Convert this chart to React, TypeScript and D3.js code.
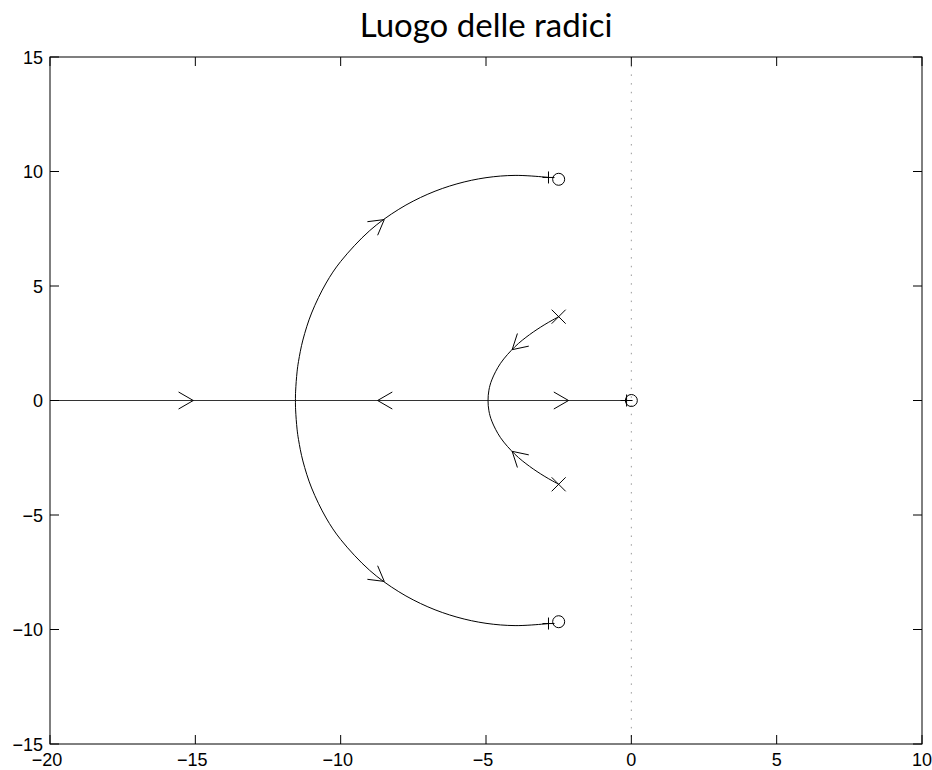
import React from "react";
import * as d3 from "d3";

// Root locus branches, in the complex plane [Re, Im]
const bigArcUpper: [number, number][] = [
  [-11.556, 0], [-11.55, 0.41], [-11.5, 1.25], [-11.45, 1.71], [-11.3, 2.64],
  [-11.0, 3.82], [-10.5, 5.13], [-10.0, 6.07], [-9.0, 7.42], [-8.0, 8.35],
  [-7.0, 9.01], [-6.0, 9.46], [-5.0, 9.73], [-4.0, 9.83], [-3.0, 9.76],
  [-2.85, 9.74],
];
const bigArcLower: [number, number][] = [
  [-11.556, 0], [-11.55, -0.41], [-11.5, -1.25], [-11.45, -1.71], [-11.3, -2.64],
  [-11.0, -3.82], [-10.5, -5.13], [-10.0, -6.07], [-9.0, -7.42], [-8.0, -8.35],
  [-7.0, -9.01], [-6.0, -9.46], [-5.0, -9.73], [-4.0, -9.83], [-3.0, -9.76],
  [-2.85, -9.74],
];
const smallArcUpper: [number, number][] = [
  [-4.93, 0], [-4.9, 0.45], [-4.8, 0.9], [-4.5, 1.625], [-4.0, 2.354],
  [-3.5, 2.877], [-3.0, 3.3], [-2.7, 3.52], [-2.5, 3.66],
];
const smallArcLower: [number, number][] = [
  [-4.93, 0], [-4.9, -0.45], [-4.8, -0.9], [-4.5, -1.625], [-4.0, -2.354],
  [-3.5, -2.877], [-3.0, -3.3], [-2.7, -3.52], [-2.5, -3.66],
];
const realAxisBranches: [number, number][][] = [
  [[-20, 0], [-11.556, 0]],
  [[-11.556, 0], [-4.93, 0]],
  [[-4.93, 0], [-0.164, 0]],
];

// Direction arrows: tip and a point behind it on the branch
const arrowTips: [number, number][] = [
  [-15.07, 0], [-8.73, 0], [-2.16, 0],
  [-8.5, 7.9], [-4.1, 2.22], [-8.5, -7.9], [-4.1, -2.22],
];
const arrowTails: [number, number][] = [
  [-16, 0], [-8, 0], [-3, 0],
  [-9.0, 7.42], [-3.75, 2.62], [-9.0, -7.42], [-3.75, -2.62],
];

const poles: [number, number][] = [[-2.5, 3.66], [-2.5, -3.66]];
const zeros: [number, number][] = [[0, 0], [-2.5, 9.66], [-2.5, -9.66]];
const endPoints: [number, number][] = [[-2.85, 9.74], [-2.85, -9.74], [-0.164, 0]];

const xTicks = [-20, -15, -10, -5, 0, 5, 10];
const yTicks = [-15, -10, -5, 0, 5, 10, 15];
const titleText = "Luogo delle radici";

const W = 932;
const H = 770;
const left = 50;
const right = 922;
const top = 57;
const bottom = 744;
const tickLen = 9;

const fmt = (v: number) => (v < 0 ? "\u2212" + Math.abs(v) : String(v));

export default function App() {
  const x = d3.scaleLinear().domain([-20, 10]).range([left, right]);
  const y = d3.scaleLinear().domain([-15, 15]).range([bottom, top]);

  const line = d3
    .line<[number, number]>()
    .x((d) => x(d[0]))
    .y((d) => y(d[1]))
    .curve(d3.curveCatmullRom.alpha(0.5));

  const straight = d3
    .line<[number, number]>()
    .x((d) => x(d[0]))
    .y((d) => y(d[1]));

  // each arc is drawn as one continuous curve through its real-axis point
  const bigArc = [...bigArcUpper].reverse().concat(bigArcLower.slice(1));
  const smallArc = [...smallArcUpper].reverse().concat(smallArcLower.slice(1));

  const arrowPath = (tip: [number, number], tail: [number, number]) => {
    const tx = x(tip[0]);
    const ty = y(tip[1]);
    const ang = Math.atan2(ty - y(tail[1]), tx - x(tail[0]));
    const len = 17;
    const spread = Math.PI / 6;
    const a1 = ang + Math.PI - spread;
    const a2 = ang + Math.PI + spread;
    return `M${tx + len * Math.cos(a1)},${ty + len * Math.sin(a1)}L${tx},${ty}L${tx + len * Math.cos(a2)},${ty + len * Math.sin(a2)}`;
  };

  const tickFont = "'Liberation Sans', Arial, Helvetica, sans-serif";

  return (
    <svg
      width={W}
      height={H}
      style={{ position: "absolute", left: 0, top: 0, background: "#fff" }}
    >
      <rect x={0} y={0} width={W} height={H} fill="#fff" />

      {/* dotted imaginary axis */}
      <line
        x1={x(0)}
        x2={x(0)}
        y1={top}
        y2={bottom}
        stroke="#999"
        strokeWidth={1}
        strokeDasharray="1.5 7.2"
      />

      {/* locus branches */}
      <g fill="none" stroke="#000" strokeWidth={1}>
        {realAxisBranches.map((b, i) => (
          <path key={"r" + i} d={straight(b) || ""} stroke="#333" />
        ))}
        <path d={line(bigArc) || ""} />
        <path d={line(smallArc) || ""} />
        {arrowTips.map((t, i) => (
          <path key={"a" + i} d={arrowPath(t, arrowTails[i])} />
        ))}
      </g>

      {/* poles, zeros and end points */}
      <g fill="none" stroke="#000" strokeWidth={1}>
        {poles.map((p, i) => {
          const cx = x(p[0]);
          const cy = y(p[1]);
          const s = 7;
          return (
            <path
              key={"p" + i}
              d={`M${cx - s},${cy - s}L${cx + s},${cy + s}M${cx - s},${cy + s}L${cx + s},${cy - s}`}
            />
          );
        })}
        {zeros.map((z, i) => (
          <circle key={"z" + i} cx={x(z[0])} cy={y(z[1])} r={6} />
        ))}
        {endPoints.map((p, i) => {
          const cx = x(p[0]);
          const cy = y(p[1]);
          const s = 6;
          return (
            <path key={"e" + i} d={`M${cx - s},${cy}L${cx + s},${cy}M${cx},${cy - s}L${cx},${cy + s}`} />
          );
        })}
      </g>

      {/* frame and ticks */}
      <g stroke="#000" strokeWidth={1} fill="none">
        <rect x={left} y={top} width={right - left} height={bottom - top} />
        {xTicks.map((t) => (
          <g key={"xt" + t}>
            <line x1={x(t)} x2={x(t)} y1={bottom} y2={bottom - tickLen} />
            <line x1={x(t)} x2={x(t)} y1={top} y2={top + tickLen} />
          </g>
        ))}
        {yTicks.map((t) => (
          <g key={"yt" + t}>
            <line x1={left} x2={left + tickLen} y1={y(t)} y2={y(t)} />
            <line x1={right} x2={right - tickLen} y1={y(t)} y2={y(t)} />
          </g>
        ))}
      </g>

      <g fontFamily={tickFont} fontSize={18} fill="#000">
        {xTicks.map((t) => (
          <text key={"xl" + t} x={x(t) - (t < 0 ? 3 : 0)} y={bottom + 22} textAnchor="middle">
            {fmt(t)}
          </text>
        ))}
        {yTicks.map((t) => (
          <text
            key={"yl" + t}
            x={left - 7}
            y={y(t) + 6.5}
            textAnchor="end"
          >
            {fmt(t)}
          </text>
        ))}
      </g>

      <text
        x={(left + right) / 2}
        y={37}
        textAnchor="middle"
        fontFamily="Lato, 'DejaVu Sans', sans-serif"
        fontSize={33}
        fill="#000"
      >
        {titleText}
      </text>
    </svg>
  );
}
